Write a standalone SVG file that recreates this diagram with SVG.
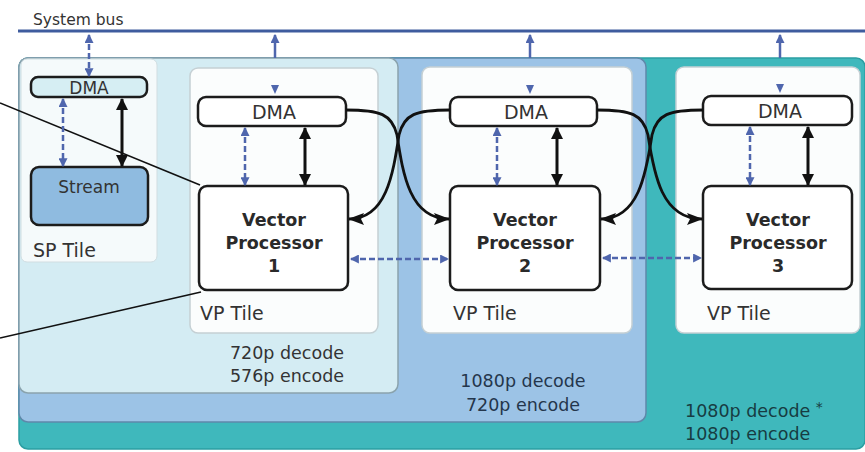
<svg xmlns="http://www.w3.org/2000/svg" width="865" height="452" viewBox="0 0 865 452">
<defs>
<style>
text{font-family:"DejaVu Sans","Liberation Sans",sans-serif;fill:#333;}
.lbl{font-size:17.5px;}
.tl{font-size:19px;}
.dma{font-size:19px;text-anchor:middle;}
.vp{font-size:17.5px;font-weight:bold;text-anchor:middle;fill:#2a2a2a;}
.tile{fill:#fbfdfd;stroke:#c5d0d4;stroke-width:1.5;}
.box{fill:#fff;stroke:#1c1c1c;stroke-width:2.5;}
.blk{fill:none;stroke:#111;stroke-width:3;}
.crv{fill:none;stroke:#111;stroke-width:2.8;marker-end:url(#ch);}
.bda{fill:none;stroke:#4f66ad;stroke-width:2.5;stroke-dasharray:6 3;}
.bsol{fill:none;stroke:#4f66ad;stroke-width:2.5;}
</style>
<marker id="bh" viewBox="0 0 12 12" refX="11" refY="6" markerWidth="12" markerHeight="12" markerUnits="userSpaceOnUse" orient="auto-start-reverse"><path d="M0,0 L12,6 L0,12 z" fill="#111"/></marker>
<marker id="ch" viewBox="0 0 16 12" refX="15" refY="6" markerWidth="16" markerHeight="12" markerUnits="userSpaceOnUse" orient="auto"><path d="M0,0 L16,6 L0,12 L3,6 z" fill="#111"/></marker>
<marker id="uh" viewBox="0 0 8 8" refX="7" refY="4" markerWidth="9" markerHeight="9" markerUnits="userSpaceOnUse" orient="auto-start-reverse"><path d="M0,0 L8,4 L0,8 z" fill="#4f66ad"/></marker>
</defs>
<rect width="865" height="452" fill="#fff"/>
<g id="system-bus">
<text x="33" y="25" style="font-size:15.5px">System bus</text>
<line x1="18" y1="31" x2="865" y2="31" stroke="#3f5c9e" stroke-width="3"/>
</g>
<g id="region-1080p">
<rect x="19" y="58" width="846" height="391" rx="9" fill="#3fb8bc" stroke="#2b9ea2" stroke-width="1.5"/>
<text x="685" y="417" class="lbl" style="fill:#173c42">1080p decode <tspan dy="-5" style="font-size:14px">*</tspan></text>
<text x="685" y="440" class="lbl" style="fill:#173c42">1080p encode</text>
</g>
<g id="region-1080p-720p">
<rect x="19" y="58" width="627" height="364" rx="9" fill="#9cc3e6" stroke="#5f88aa" stroke-width="1.5"/>
<text x="523" y="387" class="lbl" text-anchor="middle" style="fill:#24364c">1080p decode</text>
<text x="523" y="411" class="lbl" text-anchor="middle" style="fill:#24364c">720p encode</text>
</g>
<g id="region-720p-576p">
<rect x="19" y="58" width="379" height="335" rx="9" fill="#d4ecf3" stroke="#8aa3ad" stroke-width="1.5"/>
<text x="287" y="359" class="lbl" text-anchor="middle">720p decode</text>
<text x="287" y="382" class="lbl" text-anchor="middle">576p encode</text>
</g>
<g id="sp-tile">
<rect x="21" y="59" width="136" height="203" rx="6" fill="#f5fafb" stroke="#d0dde1" stroke-width="1"/>
<rect x="31" y="77" width="116" height="20" rx="7" fill="#d6eef3" stroke="#1c1c1c" stroke-width="2.5"/>
<text x="89" y="94" style="font-size:17px;text-anchor:middle">DMA</text>
<rect x="31" y="167" width="117" height="58" rx="8" fill="#8fbbe0" stroke="#1c1c1c" stroke-width="2.5"/>
<text x="89" y="193" style="font-size:17px;text-anchor:middle">Stream</text>
<text x="33" y="257" class="tl">SP Tile</text>
</g>
<g id="vp-tile-1">
<rect class="tile" x="190" y="68" width="188" height="265" rx="8"/>
<rect class="box" x="198" y="97" width="148" height="29" rx="8"/>
<text class="dma" x="274" y="119">DMA</text>
<rect class="box" x="199" y="186" width="149" height="104" rx="8"/>
<text class="vp" x="274" y="226">Vector</text>
<text class="vp" x="274" y="249">Processor</text>
<text class="vp" x="274" y="272">1</text>
<text class="tl" x="200" y="320">VP Tile</text>
</g>
<g id="vp-tile-2">
<rect class="tile" x="422" y="67" width="210" height="266" rx="8"/>
<rect class="box" x="450" y="97" width="147" height="29" rx="8"/>
<text class="dma" x="526" y="119">DMA</text>
<rect class="box" x="450" y="186" width="150" height="104" rx="8"/>
<text class="vp" x="525" y="226">Vector</text>
<text class="vp" x="525" y="249">Processor</text>
<text class="vp" x="525" y="272">2</text>
<text class="tl" x="453" y="320">VP Tile</text>
</g>
<g id="vp-tile-3">
<rect class="tile" x="676" y="67" width="184" height="266" rx="8"/>
<rect class="box" x="703" y="96" width="149" height="29" rx="8"/>
<text class="dma" x="780" y="118">DMA</text>
<rect class="box" x="703" y="186" width="149" height="103" rx="8"/>
<text class="vp" x="778" y="226">Vector</text>
<text class="vp" x="778" y="249">Processor</text>
<text class="vp" x="778" y="272">3</text>
<text class="tl" x="707" y="320">VP Tile</text>
</g>
<g id="connectors">
<line x1="0" y1="103" x2="200" y2="185" stroke="#111" stroke-width="1.6"/>
<line x1="0" y1="338" x2="201" y2="292" stroke="#111" stroke-width="1.6"/>
<line class="bda" x1="89" y1="35" x2="89" y2="76" marker-start="url(#uh)" marker-end="url(#uh)"/>
<line class="bsol" x1="275" y1="58" x2="275" y2="35" marker-end="url(#uh)"/>
<line class="bsol" x1="530" y1="58" x2="530" y2="35" marker-end="url(#uh)"/>
<line class="bsol" x1="780" y1="58" x2="780" y2="35" marker-end="url(#uh)"/>
<polygon points="271,85 279,85 275,94" fill="#4f66ad"/>
<polygon points="526,85 534,85 530,94" fill="#4f66ad"/>
<polygon points="776,84 784,84 780,93" fill="#4f66ad"/>
<line class="bda" x1="63" y1="99" x2="63" y2="166" marker-start="url(#uh)" marker-end="url(#uh)"/>
<line class="blk" x1="122" y1="99" x2="122" y2="166" marker-start="url(#bh)" marker-end="url(#bh)"/>
<line class="bda" x1="245" y1="128" x2="245" y2="185" marker-start="url(#uh)" marker-end="url(#uh)"/>
<line class="blk" x1="305" y1="128" x2="305" y2="185" marker-start="url(#bh)" marker-end="url(#bh)"/>
<line class="bda" x1="497" y1="128" x2="497" y2="185" marker-start="url(#uh)" marker-end="url(#uh)"/>
<line class="blk" x1="557" y1="128" x2="557" y2="185" marker-start="url(#bh)" marker-end="url(#bh)"/>
<line class="bda" x1="750" y1="127" x2="750" y2="185" marker-start="url(#uh)" marker-end="url(#uh)"/>
<line class="blk" x1="808" y1="127" x2="808" y2="185" marker-start="url(#bh)" marker-end="url(#bh)"/>
<line class="bda" x1="351" y1="259" x2="448" y2="259" marker-start="url(#uh)" marker-end="url(#uh)"/>
<line class="bda" x1="603" y1="258" x2="701" y2="258" marker-start="url(#uh)" marker-end="url(#uh)"/>
<path class="crv" d="M346,110 C380,110 392,114 397,135 C403,175 410,219 449,219"/>
<path class="crv" d="M450,110 C416,110 404,114 399,135 C393,175 386,219 349,219"/>
<path class="crv" d="M597,110 C631,110 643,114 648,135 C654,175 662,219 702,219"/>
<path class="crv" d="M703,110 C669,110 657,114 652,135 C646,175 638,219 601,219"/>
</g>
</svg>
